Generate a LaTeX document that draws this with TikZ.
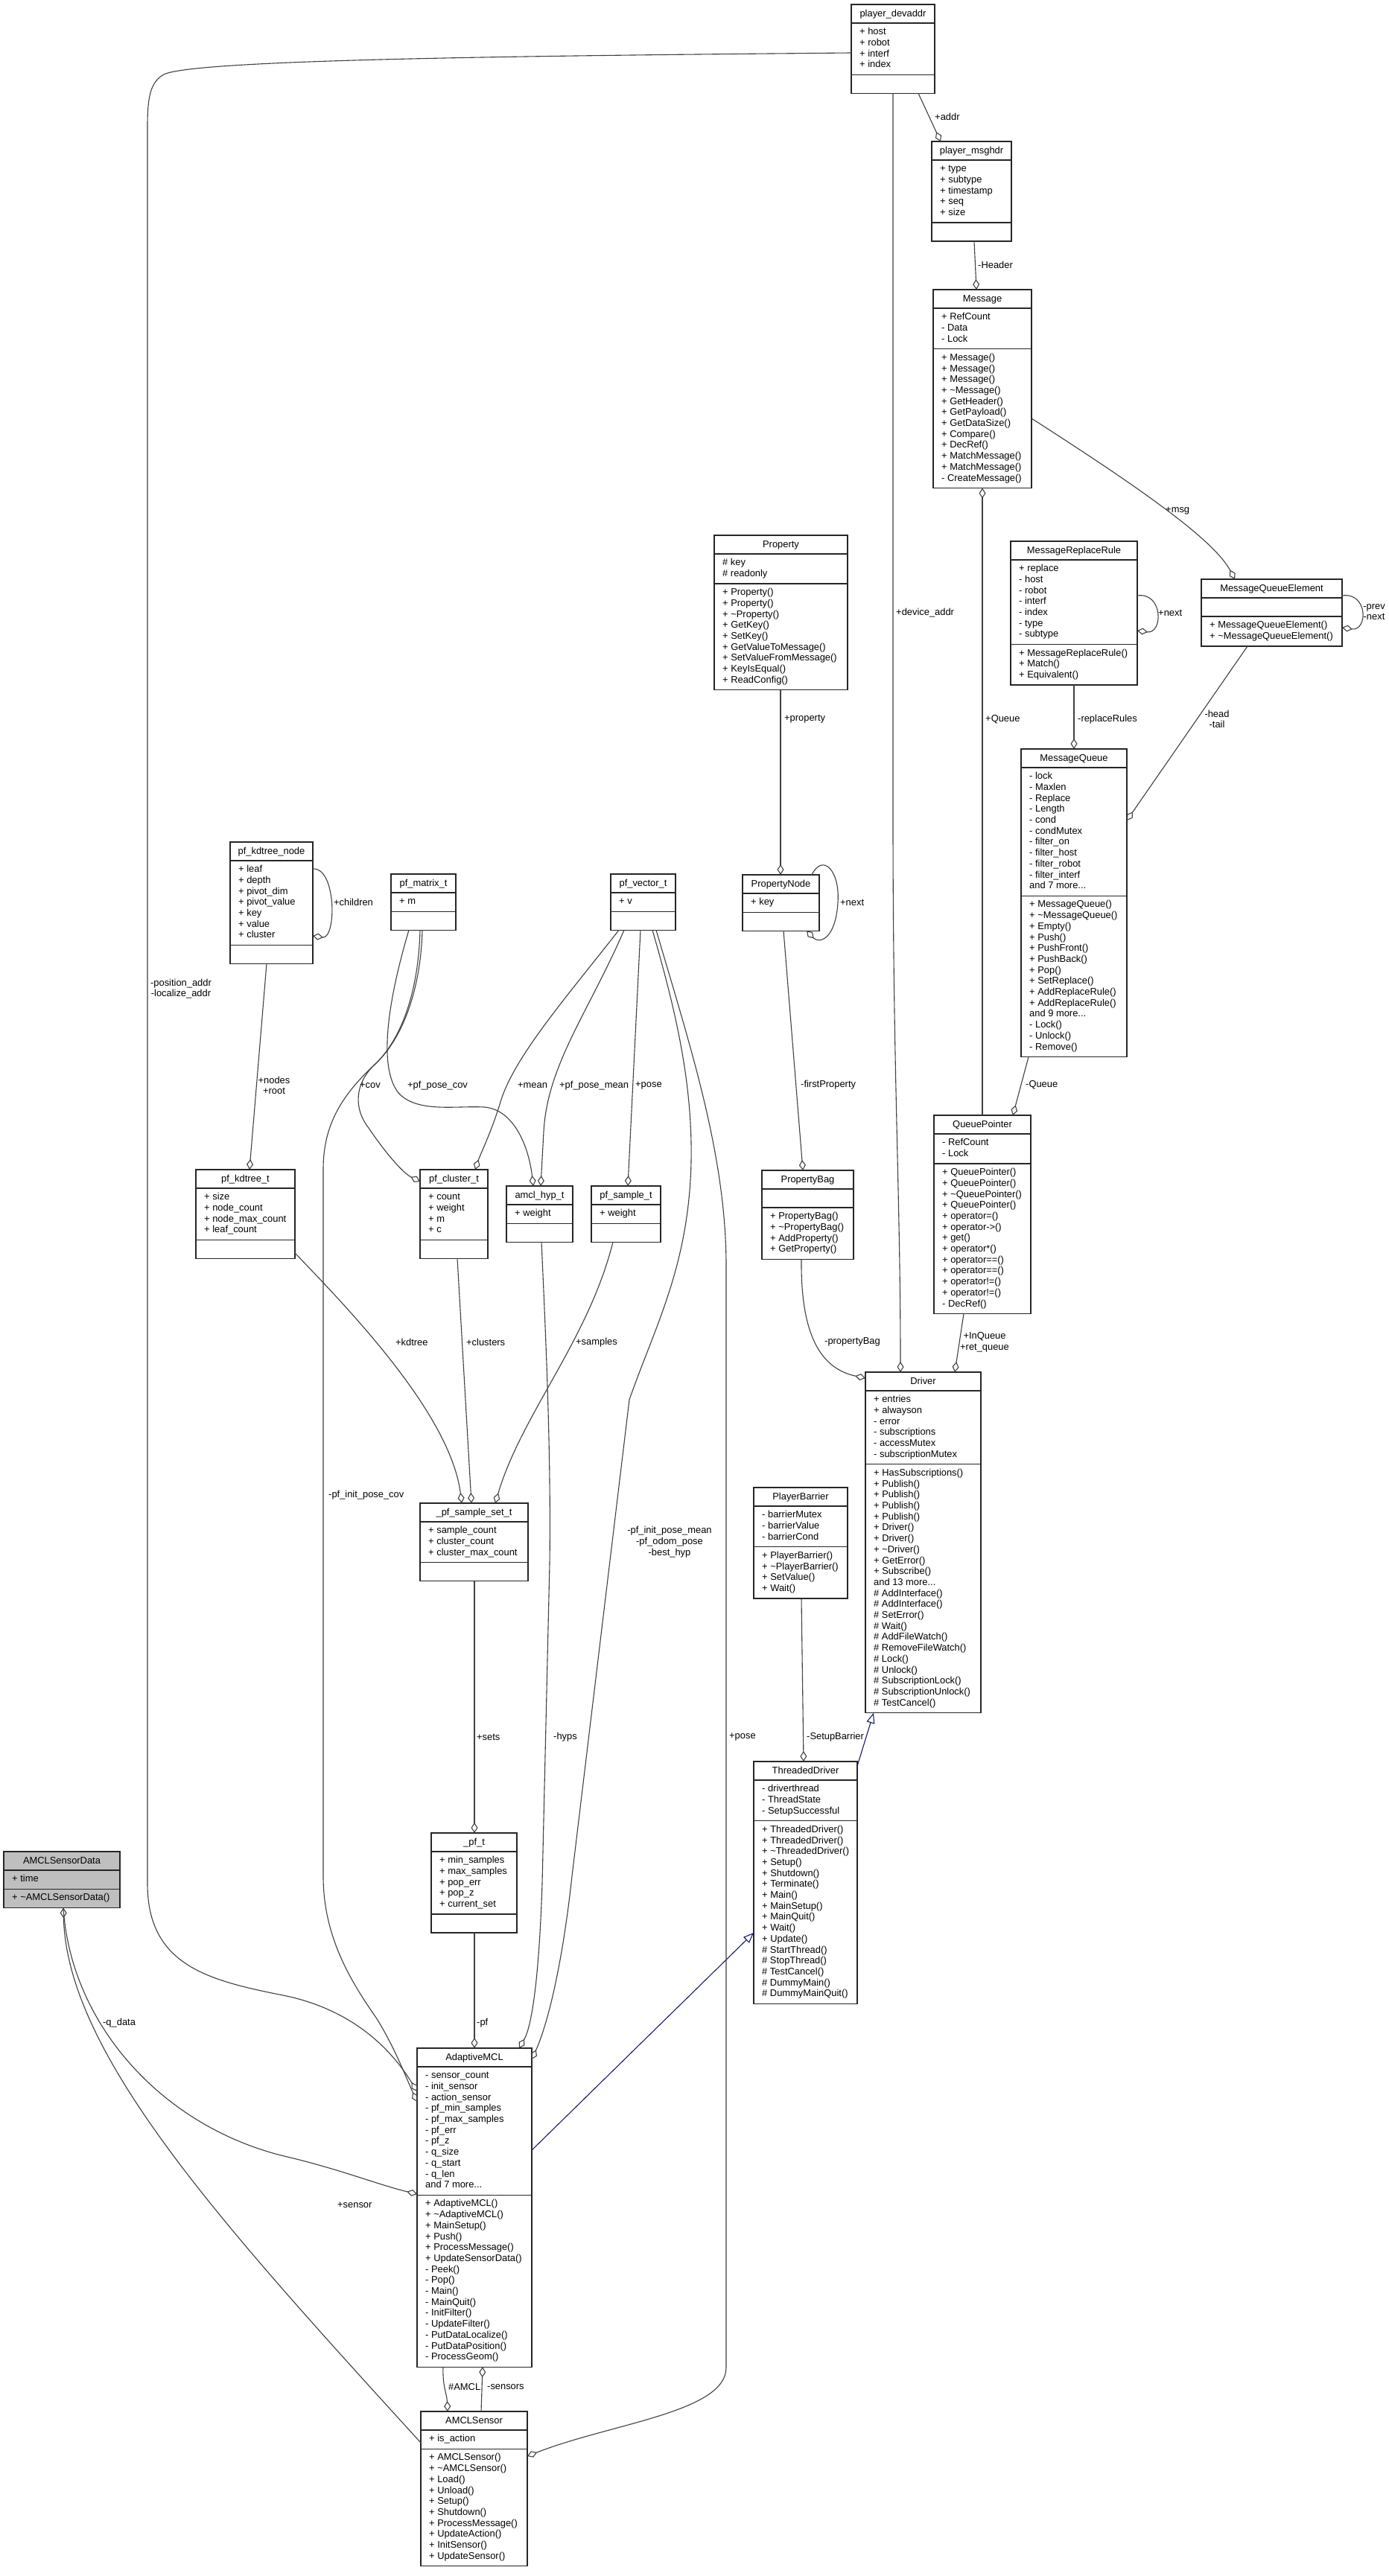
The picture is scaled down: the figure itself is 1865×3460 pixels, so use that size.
\documentclass[tikz,border=0pt]{standalone}
\usepackage{fontspec}
\setmainfont{Liberation Sans}
\usetikzlibrary{arrows.meta}
\definecolor{inhblue}{RGB}{25,25,112}
\definecolor{edgegray}{RGB}{64,64,64}
\newcommand{\diafont}{\fontsize{12.9pt}{14.7pt}\selectfont}
\newcommand{\tld}{\textasciitilde}
\newcommand{\tfillcol}{white}
\tikzset{
  cls/.style={draw=black!85, line width=1.3pt, rectangle, inner sep=0pt, outer sep=0pt, anchor=north west},
  sepl/.style={draw=black!85, line width=1.3pt},
  ttl/.style={font=\diafont, inner sep=0pt, anchor=base},
  txt/.style={font=\diafont, inner sep=0pt, anchor=north west, align=left},
  lbl/.style={font=\diafont, inner sep=0pt, anchor=west},
  mlbl/.style={font=\diafont, inner sep=0pt, anchor=center, align=center},
  agg/.style={draw=edgegray, line width=1.1pt, -{Diamond[open,length=14pt,width=9pt]}},
  inh/.style={draw=inhblue, line width=1.1pt, -{Triangle[open,length=14pt,width=11pt]}},
}
% name, x, y(top), width, title, n attrs, attrs, n ops, ops
\newcommand{\classbox}[9]{%
  \pgfmathsetmacro{\hA}{(#6==0)*25+(#6>0)*(#6*14.7+10.5)}%
  \pgfmathsetmacro{\hM}{(#8==0)*25+(#8>0)*(#8*14.7+10.5)}%
  \pgfmathsetmacro{\hT}{25+\hA+\hM}%
  \pgfmathsetmacro{\yB}{-(25+\hA)}%
  \pgfmathsetmacro{\yMt}{-(25+\hA+5.2)}%
  \node[cls, fill=\tfillcol, minimum width=#4pt, minimum height=\hT pt] (#1) at (#2,#3) {};%
  \node[ttl] (#1-title) at ([yshift=-16.5pt]#1.north) {#5};%
  \draw[sepl] ([yshift=-25pt]#1.north west) -- ([yshift=-25pt]#1.north east);%
  \draw[sepl] ([yshift=\yB pt]#1.north west) -- ([yshift=\yB pt]#1.north east);%
  \ifnum#6>0 \node[txt] (#1-attrs) at ([xshift=11pt,yshift=-30.2pt]#1.north west) {\rule{0pt}{10.3pt}#7};\fi%
  \ifnum#8>0 \node[txt] (#1-ops) at ([xshift=11pt,yshift=\yMt pt]#1.north west) {\rule{0pt}{10.3pt}#9};\fi%
}
\begin{document}
\begin{tikzpicture}[x=1pt,y=-1pt]
\fill[white] (0,0) rectangle (1865,3460);
\useasboundingbox (0,0) rectangle (1865,3460);

% ---------- classes ----------
\classbox{devaddr}{1143}{6}{112}{player\_devaddr}{4}{+ host\\+ robot\\+ interf\\+ index}{0}{}
\classbox{msghdr}{1251}{190}{107}{player\_msghdr}{5}{+ type\\+ subtype\\+ timestamp\\+ seq\\+ size}{0}{}
\classbox{Message}{1253}{389}{132}{Message}{3}{+ RefCount\\- Data\\- Lock}{12}{+ Message()\\+ Message()\\+ Message()\\+ \tld Message()\\+ GetHeader()\\+ GetPayload()\\+ GetDataSize()\\+ Compare()\\+ DecRef()\\+ MatchMessage()\\+ MatchMessage()\\- CreateMessage()}
\classbox{MRR}{1357}{727}{170}{MessageReplaceRule}{7}{+ replace\\- host\\- robot\\- interf\\- index\\- type\\- subtype}{3}{+ MessageReplaceRule()\\+ Match()\\+ Equivalent()}
\classbox{MQE}{1613}{778}{189}{MessageQueueElement}{0}{}{2}{+ MessageQueueElement()\\+ \tld MessageQueueElement()}
\classbox{Property}{959}{719}{179}{Property}{2}{\# key\\\# readonly}{9}{+ Property()\\+ Property()\\+ \tld Property()\\+ GetKey()\\+ SetKey()\\+ GetValueToMessage()\\+ SetValueFromMessage()\\+ KeyIsEqual()\\+ ReadConfig()}
\classbox{MsgQueue}{1371}{1006}{142}{MessageQueue}{11}{- lock\\- Maxlen\\- Replace\\- Length\\- cond\\- condMutex\\- filter\_on\\- filter\_host\\- filter\_robot\\- filter\_interf\\and 7 more...}{14}{+ MessageQueue()\\+ \tld MessageQueue()\\+ Empty()\\+ Push()\\+ PushFront()\\+ PushBack()\\+ Pop()\\+ SetReplace()\\+ AddReplaceRule()\\+ AddReplaceRule()\\and 9 more...\\- Lock()\\- Unlock()\\- Remove()}
\classbox{PropertyNode}{997}{1175}{103}{PropertyNode}{1}{+ key}{0}{}
\classbox{PropertyBag}{1023}{1572}{123}{PropertyBag}{0}{}{4}{+ PropertyBag()\\+ \tld PropertyBag()\\+ AddProperty()\\+ GetProperty()}
\classbox{QueuePointer}{1254}{1498}{130}{QueuePointer}{2}{- RefCount\\- Lock}{13}{+ QueuePointer()\\+ QueuePointer()\\+ \tld QueuePointer()\\+ QueuePointer()\\+ operator=()\\+ operator->()\\+ get()\\+ operator*()\\+ operator==()\\+ operator==()\\+ operator!=()\\+ operator!=()\\- DecRef()}
\classbox{Driver}{1162}{1843}{155}{Driver}{6}{+ entries\\+ alwayson\\- error\\- subscriptions\\- accessMutex\\- subscriptionMutex}{22}{+ HasSubscriptions()\\+ Publish()\\+ Publish()\\+ Publish()\\+ Publish()\\+ Driver()\\+ Driver()\\+ \tld Driver()\\+ GetError()\\+ Subscribe()\\and 13 more...\\\# AddInterface()\\\# AddInterface()\\\# SetError()\\\# Wait()\\\# AddFileWatch()\\\# RemoveFileWatch()\\\# Lock()\\\# Unlock()\\\# SubscriptionLock()\\\# SubscriptionUnlock()\\\# TestCancel()}
\classbox{PlayerBarrier}{1012}{1998}{126}{PlayerBarrier}{3}{- barrierMutex\\- barrierValue\\- barrierCond}{4}{+ PlayerBarrier()\\+ \tld PlayerBarrier()\\+ SetValue()\\+ Wait()}
\classbox{ThreadedDriver}{1012}{2366}{139}{ThreadedDriver}{3}{- driverthread\\- ThreadState\\- SetupSuccessful}{16}{+ ThreadedDriver()\\+ ThreadedDriver()\\+ \tld ThreadedDriver()\\+ Setup()\\+ Shutdown()\\+ Terminate()\\+ Main()\\+ MainSetup()\\+ MainQuit()\\+ Wait()\\+ Update()\\\# StartThread()\\\# StopThread()\\\# TestCancel()\\\# DummyMain()\\\# DummyMainQuit()}
\classbox{kdnode}{309}{1131}{111}{pf\_kdtree\_node}{7}{+ leaf\\+ depth\\+ pivot\_dim\\+ pivot\_value\\+ key\\+ value\\+ cluster}{0}{}
\classbox{matrix}{525}{1174}{87}{pf\_matrix\_t}{1}{+ m}{0}{}
\classbox{vector}{820}{1174}{87}{pf\_vector\_t}{1}{+ v}{0}{}
\classbox{kdtree}{263}{1571}{133}{pf\_kdtree\_t}{4}{+ size\\+ node\_count\\+ node\_max\_count\\+ leaf\_count}{0}{}
\classbox{cluster}{564}{1571}{91}{pf\_cluster\_t}{4}{+ count\\+ weight\\+ m\\+ c}{0}{}
\classbox{hyp}{680}{1593}{89}{amcl\_hyp\_t}{1}{+ weight}{0}{}
\classbox{sample}{794}{1593}{93}{pf\_sample\_t}{1}{+ weight}{0}{}
\classbox{sampleset}{564}{2019}{145}{\_pf\_sample\_set\_t}{3}{+ sample\_count\\+ cluster\_count\\+ cluster\_max\_count}{0}{}
\classbox{pf}{579}{2462}{115}{\_pf\_t}{5}{+ min\_samples\\+ max\_samples\\+ pop\_err\\+ pop\_z\\+ current\_set}{0}{}
\classbox{amcl}{560}{2751}{154}{AdaptiveMCL}{11}{- sensor\_count\\- init\_sensor\\- action\_sensor\\- pf\_min\_samples\\- pf\_max\_samples\\- pf\_err\\- pf\_z\\- q\_size\\- q\_start\\- q\_len\\and 7 more...}{15}{+ AdaptiveMCL()\\+ \tld AdaptiveMCL()\\+ MainSetup()\\+ Push()\\+ ProcessMessage()\\+ UpdateSensorData()\\- Peek()\\- Pop()\\- Main()\\- MainQuit()\\- InitFilter()\\- UpdateFilter()\\- PutDataLocalize()\\- PutDataPosition()\\- ProcessGeom()}
\classbox{sensor}{565}{3239}{143}{AMCLSensor}{1}{+ is\_action}{10}{+ AMCLSensor()\\+ \tld AMCLSensor()\\+ Load()\\+ Unload()\\+ Setup()\\+ Shutdown()\\+ ProcessMessage()\\+ UpdateAction()\\+ InitSensor()\\+ UpdateSensor()}
\renewcommand{\tfillcol}{black!25}
\classbox{sdata}{5}{2487}{156}{AMCLSensorData}{1}{+ time}{1}{+ \tld AMCLSensorData()}
\renewcommand{\tfillcol}{white}

% ---------- connectors ----------
\draw[agg] ([xshift=90pt]devaddr.south west) -- ([xshift=12pt]msghdr.north west);
\draw[agg] ([xshift=57pt]msghdr.south west) -- ([xshift=58pt]Message.north west);
\draw[agg] ([yshift=-173pt]Message.north east) .. controls (1530,655) and (1630,725) .. ([xshift=45pt]MQE.north west);
\draw[agg] ([yshift=-73pt]MRR.north east) .. controls (1562,795) and (1562,852) .. ([yshift=-120pt]MRR.north east);
\draw[agg] ([yshift=-22pt]MQE.north east) .. controls (1837,795) and (1837,848) .. ([yshift=-65pt]MQE.north east);
\draw[agg] ([xshift=85pt]MRR.south west) -- ([xshift=71pt]MsgQueue.north west);
\draw[agg] ([xshift=62pt]MQE.south west) -- ([yshift=-96pt]MsgQueue.north east);
\draw[agg] ([xshift=65pt]QueuePointer.north west) -- ([xshift=66pt]Message.south west);
\draw[agg] ([xshift=56pt]devaddr.south west) -- (1199,1100) .. controls (1199,1450) and (1209,1600) .. ([xshift=47pt]Driver.north west);
\draw[agg] ([xshift=89pt]Property.south west) -- ([xshift=51pt]PropertyNode.north west);
\draw[agg] ([xshift=93pt]PropertyNode.north west) .. controls (1105,1145) and (1128,1170) .. (1125,1212) .. controls (1122,1262) and (1100,1268) .. ([xshift=86pt]PropertyNode.south west);
\draw[agg] ([xshift=55pt]PropertyNode.south west) -- ([xshift=55pt]PropertyBag.north west);
\draw[agg] ([xshift=53pt]PropertyBag.south west) .. controls (1075,1790) and (1100,1838) .. ([yshift=-8pt]Driver.north west);
\draw[agg] ([xshift=40pt]QueuePointer.south west) -- ([xshift=120pt]Driver.north west);
\draw[agg] ([xshift=10pt]MsgQueue.south west) -- ([xshift=106pt]QueuePointer.north west);
\draw[agg] ([xshift=64pt]PlayerBarrier.south west) -- ([xshift=67pt]ThreadedDriver.north west);
\draw[inh] ([yshift=-6pt]ThreadedDriver.north east) -- ([xshift=11pt]Driver.south west);
\draw[inh] ([yshift=-137pt]amcl.north east) -- ([yshift=-230pt]ThreadedDriver.north west);

\draw[agg] ([xshift=49pt]kdnode.south west) -- ([xshift=72pt]kdtree.north west);
\draw[agg] ([yshift=-36pt]kdnode.north east) .. controls (452,1165) and (452,1262) .. ([yshift=-126pt]kdnode.north east);
\draw[agg] ([yshift=-112pt]kdtree.north east) .. controls (470,1760) and (605,1900) .. ([xshift=56pt]sampleset.north west);
\draw[agg] ([xshift=50pt]cluster.south west) -- ([xshift=69pt]sampleset.north west);
\draw[agg] ([xshift=29pt]sample.south west) .. controls (790,1800) and (700,1900) .. ([xshift=101pt]sampleset.north west);
\draw[agg] ([xshift=73pt]sampleset.south west) -- ([xshift=58pt]pf.north west);
\draw[agg] ([xshift=58pt]pf.south west) -- ([xshift=77pt]amcl.north west);
\draw[agg] ([xshift=42pt]matrix.south west) .. controls (565,1330) and (540,1395) .. (505,1428) .. controls (475,1455) and (475,1490) .. (495,1515) .. controls (515,1545) and (540,1575) .. ([yshift=-16pt]cluster.north west);
\draw[agg] ([xshift=39pt]matrix.south west) .. controls (562,1330) and (540,1395) .. (503,1430) .. controls (460,1470) and (434,1510) .. (434,1570) -- (434,2520) .. controls (434,2600) and (470,2660) .. (505,2710) .. controls (530,2750) and (545,2790) .. ([yshift=-72pt]amcl.north west);
\draw[agg] ([xshift=24pt]matrix.south west) .. controls (525,1330) and (505,1430) .. (535,1468) .. controls (560,1495) and (610,1485) .. (650,1487) .. controls (690,1490) and (710,1540) .. ([xshift=36pt]hyp.north west);
\draw[agg] ([xshift=11pt]vector.south west) .. controls (760,1340) and (690,1420) .. (672,1480) .. controls (660,1520) and (645,1550) .. ([xshift=74pt]cluster.north west);
\draw[agg] ([xshift=18pt]vector.south west) .. controls (790,1360) and (735,1430) .. (730,1520) -- ([xshift=46pt]hyp.north west);
\draw[agg] ([xshift=40pt]vector.south west) -- ([xshift=49pt]sample.north west);
\draw[agg] ([xshift=56pt]vector.south west) .. controls (905,1350) and (930,1450) .. (928,1560) .. controls (925,1700) and (880,1780) .. (845,1880) -- (768,2520) .. controls (755,2640) and (735,2720) .. ([yshift=-15pt]amcl.north east);
\draw[agg] ([xshift=61pt]vector.south west) .. controls (925,1400) and (975,1550) .. (975,1700) -- (975,3180) .. controls (975,3240) and (820,3255) .. ([yshift=-60pt]sensor.north east);
\draw[agg] ([xshift=47pt]hyp.south west) .. controls (733,1800) and (740,1950) .. (738,2100) -- (728,2530) .. controls (724,2650) and (715,2720) .. ([xshift=137pt]amcl.north west);
\draw[agg] ([yshift=-65pt]devaddr.north west) .. controls (700,75) and (260,80) .. (220,100) .. controls (202,110) and (198,130) .. (198,170) -- (198,2530) .. controls (198,2640) and (280,2660) .. (380,2680) .. controls (480,2700) and (530,2760) .. ([yshift=-58pt]amcl.north west);
\draw[agg] ([xshift=80pt]sdata.south west) .. controls (95,2720) and (220,2860) .. (390,2898) .. controls (460,2915) and (510,2935) .. ([yshift=-196pt]amcl.north west);
\draw[agg] ([yshift=-42pt]sensor.north west) .. controls (300,2990) and (90,2760) .. ([xshift=80pt]sdata.south west);
\draw[agg] ([xshift=35pt]amcl.south west) .. controls (594,3205) and (600,3215) .. ([xshift=36pt]sensor.north west);
\draw[agg] ([xshift=81pt]sensor.north west) -- ([xshift=88pt]amcl.south west);

% ---------- labels ----------
\node[lbl] (l-addr) at (1255,157) {+addr};
\node[lbl] (l-header) at (1313,356) {-Header};
\node[lbl] (l-msg) at (1565,686) {+msg};
\node[lbl] (l-mrrnext) at (1555,823) {+next};
\node[mlbl] (l-prevnext) at (1845,822) {-prev\\-next};
\node[lbl] (l-rr) at (1447,966) {-replaceRules};
\node[mlbl] (l-headtail) at (1634,966) {-head\\-tail};
\node[lbl] (l-queue) at (1323,966) {+Queue};
\node[lbl] (l-devaddr) at (1203,823) {+device\_addr};
\node[lbl] (l-property) at (1053,966) {+property};
\node[lbl] (l-pnnext) at (1128,1212) {+next};
\node[lbl] (l-firstprop) at (1075,1457) {-firstProperty};
\node[lbl] (l-propbag) at (1107,1802) {-propertyBag};
\node[mlbl] (l-inqueue) at (1322,1803) {+InQueue\\+ret\_queue};
\node[lbl] (l-mqueue) at (1377,1457) {-Queue};
\node[lbl] (l-setup) at (1083,2333) {-SetupBarrier};
\node[mlbl] (l-nodes) at (368,1458) {+nodes\\+root};
\node[lbl] (l-children) at (448,1212) {+children};
\node[lbl] (l-kdtree) at (531,1803) {+kdtree};
\node[lbl] (l-clusters) at (626,1803) {+clusters};
\node[lbl] (l-samples) at (773,1803) {+samples};
\node[lbl] (l-sets) at (640,2333) {+sets};
\node[lbl] (l-pf) at (640,2717) {-pf};
\node[lbl] (l-cov) at (483,1458) {+cov};
\node[lbl] (l-posecov) at (547,1458) {+pf\_pose\_cov};
\node[lbl] (l-mean) at (695,1458) {+mean};
\node[lbl] (l-posemean) at (751,1458) {+pf\_pose\_mean};
\node[lbl] (l-pose1) at (853,1458) {+pose};
\node[mlbl] (l-initmean) at (899,2071) {-pf\_init\_pose\_mean\\-pf\_odom\_pose\\-best\_hyp};
\node[lbl] (l-pose2) at (979,2333) {+pose};
\node[lbl] (l-hyps) at (743,2333) {-hyps};
\node[mlbl] (l-posaddr) at (243,1328) {-position\_addr\\-localize\_addr};
\node[lbl] (l-initcov) at (441,2008) {-pf\_init\_pose\_cov};
\node[lbl] (l-qdata) at (138,2717) {-q\_data};
\node[lbl] (l-sensor) at (453,2962) {+sensor};
\node[lbl] (l-amcl) at (602,3206) {\#AMCL};
\node[lbl] (l-sensors) at (654,3206) {-sensors};
\end{tikzpicture}
\end{document}
